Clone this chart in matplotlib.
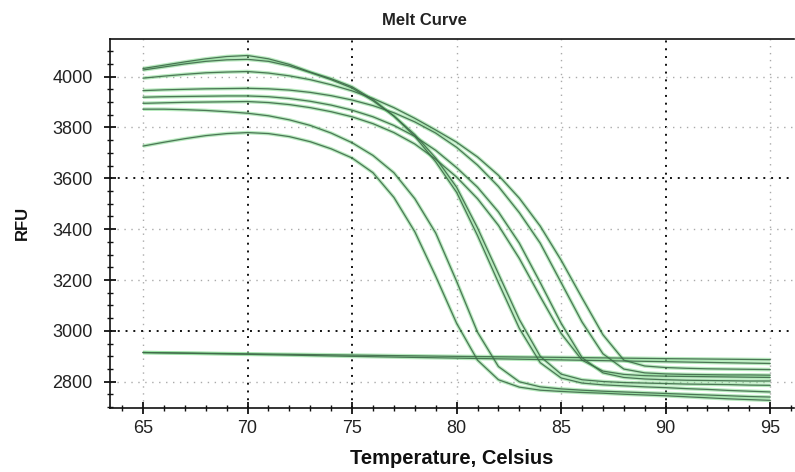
import matplotlib
matplotlib.use("Agg")
import matplotlib.pyplot as plt
from matplotlib.ticker import MultipleLocator

plt.rcParams['font.family'] = ['Liberation Sans', 'DejaVu Sans']

temps = list(range(65, 96))

curve_g = [3727, 3742, 3756, 3768, 3776, 3780, 3776, 3764, 3744, 3716, 3680, 3622, 3525, 3390, 3215, 3030,
           2885, 2808, 2779, 2767, 2762, 2758, 2755, 2751, 2748, 2745, 2741, 2737, 2733, 2730, 2727]
curve_f = [3872, 3872, 3870, 3867, 3862, 3856, 3846, 3830, 3808, 3778, 3740, 3690, 3622, 3520, 3385, 3195,
           2995, 2860, 2800, 2780, 2772, 2767, 2763, 2760, 2757, 2754, 2751, 2748, 2745, 2742, 2740]
curve_a1 = [4032, 4045, 4058, 4070, 4079, 4083, 4070, 4048, 4018, 3992, 3960, 3910, 3845, 3765, 3665, 3545,
            3375, 3190, 3010, 2875, 2815, 2795, 2788, 2784, 2780, 2777, 2773, 2770, 2766, 2763, 2760]
curve_a2 = [4026, 4038, 4050, 4060, 4066, 4068, 4060, 4042, 4016, 3988, 3955, 3905, 3845, 3772, 3680, 3565,
            3405, 3225, 3045, 2900, 2830, 2808, 2801, 2797, 2795, 2793, 2791, 2790, 2789, 2787, 2786]
curve_e = [3895, 3897, 3899, 3900, 3901, 3902, 3898, 3890, 3878, 3862, 3842, 3815, 3780, 3735, 3675, 3605,
           3520, 3415, 3285, 3135, 2990, 2885, 2842, 2829, 2824, 2822, 2821, 2820, 2819, 2818, 2817]
curve_d = [3919, 3921, 3922, 3923, 3924, 3924, 3921, 3914, 3903, 3888, 3868, 3842, 3808, 3765, 3710, 3642,
           3565, 3468, 3345, 3190, 3030, 2895, 2835, 2817, 2811, 2808, 2806, 2805, 2804, 2803, 2803]
curve_c = [3945, 3948, 3950, 3952, 3953, 3954, 3952, 3947, 3938, 3925, 3908, 3886, 3858, 3822, 3778, 3722,
           3652, 3568, 3465, 3345, 3190, 3035, 2910, 2850, 2835, 2831, 2829, 2828, 2827, 2827, 2826]
curve_b = [3994, 4002, 4009, 4015, 4018, 4020, 4014, 4003, 3988, 3968, 3944, 3914, 3878, 3836, 3790, 3742,
           3684, 3612, 3522, 3412, 3278, 3130, 2985, 2885, 2862, 2856, 2853, 2851, 2850, 2849, 2848]

flat_temps = [65, 70, 75, 80, 85, 90, 95]
flat_1 = [2915, 2910, 2905, 2900, 2896, 2891, 2887]
flat_2 = [2915, 2908, 2900, 2893, 2886, 2879, 2872]

melt_curves = [curve_g, curve_f, curve_e, curve_d, curve_c, curve_b, curve_a2, curve_a1]
flat_curves = [flat_1, flat_2]

fig = plt.figure(figsize=(7.95, 4.72), dpi=100)
ax = fig.add_axes([0.1384, 0.1362, 0.8606, 0.7812])

halo = '#7fd98a'
core = '#3f6a4a'
for ys in melt_curves:
    ax.plot(temps, ys, color=halo, lw=2.6, alpha=0.55, solid_capstyle='butt', zorder=2)
    ax.plot(temps, ys, color=core, lw=0.9, alpha=0.9, zorder=3)
for ys in flat_curves:
    ax.plot(flat_temps, ys, color=halo, lw=2.6, alpha=0.55, solid_capstyle='butt', zorder=2)
    ax.plot(flat_temps, ys, color=core, lw=0.9, alpha=0.9, zorder=3)

ax.set_xlim(63.42, 96.15)
ax.set_ylim(2698, 4148)

ax.xaxis.set_major_locator(MultipleLocator(5))
ax.xaxis.set_minor_locator(MultipleLocator(1))
ax.yaxis.set_major_locator(MultipleLocator(200))
ax.yaxis.set_minor_locator(MultipleLocator(50))
ax.tick_params(which='major', direction='inout', length=9, width=1.3, colors='#111111',
               labelsize=13, labelcolor='#222222')
ax.tick_params(which='minor', direction='inout', length=5, width=1.0, colors='#111111')
ax.tick_params(axis='x', which='major', pad=4)
ax.tick_params(axis='y', which='major', pad=8)

ax.spines['right'].set_visible(False)
for s in ['left', 'top', 'bottom']:
    ax.spines[s].set_linewidth(1.2)
    ax.spines[s].set_color('#111111')

ax.grid(True, which='major', linestyle=(0, (1, 4)), color='#aaaaaa', lw=1.0)
dark_x = [70, 75, 90]
dark_y = [3600, 3000]
for line, loc in zip(ax.xaxis.get_gridlines(), ax.get_xticks()):
    if round(loc) in dark_x:
        line.set_color('#111111')
        line.set_linewidth(1.4)
        line.set_linestyle((0, (1, 3)))
for line, loc in zip(ax.yaxis.get_gridlines(), ax.get_yticks()):
    if round(loc) in dark_y:
        line.set_color('#111111')
        line.set_linewidth(1.4)
        line.set_linestyle((0, (1, 3)))

ax.set_title('Melt Curve', fontsize=12, fontweight='bold', color='#222222', pad=10, x=0.46)
ax.set_xlabel('Temperature, Celsius', fontsize=14.5, fontweight='bold', color='#111111', labelpad=9)
ax.set_ylabel('RFU', fontsize=12, fontweight='bold', color='#111111', labelpad=16)

fig.savefig('out.png', dpi=100)
